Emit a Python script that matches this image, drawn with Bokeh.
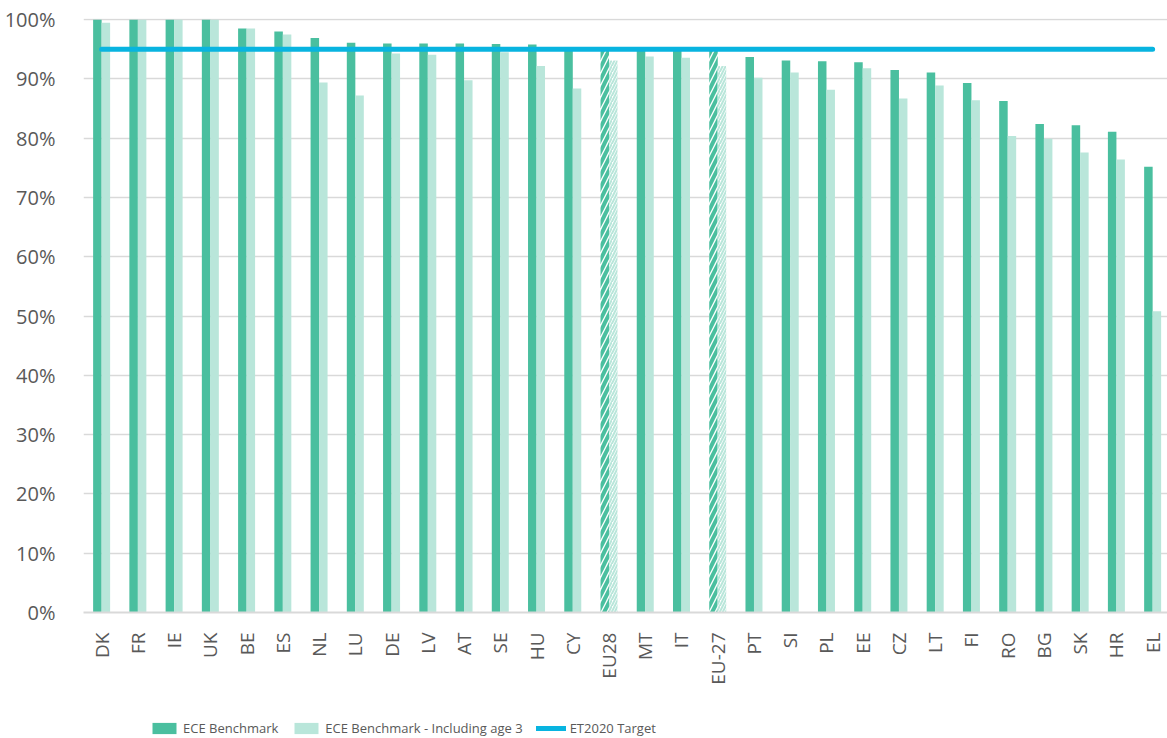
import numpy as np
from math import pi
from bokeh.plotting import figure
from bokeh.layouts import column
from bokeh.models import (ColumnDataSource, Range1d, FixedTicker, PrintfTickFormatter,
                          Legend, LegendItem)
from bokeh.transform import dodge
from bokeh.core.properties import value
from bokeh.embed import file_html
from bokeh.resources import INLINE

# ---- data ----
countries = ["DK", "FR", "IE", "UK", "BE", "ES", "NL", "LU", "DE", "LV", "AT", "SE", "HU", "CY",
             "EU28", "MT", "IT", "EU-27", "PT", "SI", "PL", "EE", "CZ", "LT", "FI", "RO", "BG",
             "SK", "HR", "EL"]
ece_benchmark = [100, 100, 100, 100, 98.5, 98.0, 96.9, 96.1, 96.0, 96.0, 96.0, 95.9, 95.8, 95.2,
                 95.0, 95.1, 95.0, 95.0, 93.7, 93.1, 93.0, 92.8, 91.5, 91.1, 89.3, 86.3, 82.4,
                 82.2, 81.1, 75.2]
ece_age3 = [99.5, 100, 100, 100, 98.5, 97.5, 89.4, 87.2, 94.3, 94.1, 89.8, 94.5, 92.2, 88.4,
            93.1, 93.8, 93.6, 92.2, 90.2, 91.1, 88.2, 91.8, 86.7, 88.9, 86.4, 80.4, 79.9,
            77.6, 76.4, 50.8]
target = 95
aggregates = ["EU28", "EU-27"]
y_ticks = [0, 10, 20, 30, 40, 50, 60, 70, 80, 90, 100]
series_names = ["ECE Benchmark", "ECE Benchmark - Including age 3", "ET2020 Target"]

DARK = "#4ABF9F"
LIGHT = "#B9E6DA"
LINE = "#08B4E0"
GRID = "#D9D9D9"
TXT = "#595959"
FONT = "Open Sans"

n = len(countries)
idx = list(range(n))
is_agg = [c in aggregates for c in countries]

def subset(flag):
    sel = [i for i in idx if is_agg[i] == flag]
    return ColumnDataSource(dict(
        idx=sel,
        ece=[ece_benchmark[i] for i in sel],
        age3=[ece_age3[i] for i in sel],
    ))

src_main = subset(False)
src_agg = subset(True)

bw = 0.235
off = 0.117

def draw(fig):
    r_dark = fig.vbar(x=dodge("idx", -off, range=fig.x_range), top="ece", width=bw, bottom=0,
                      source=src_main, fill_color=DARK, line_color=None)
    r_light = fig.vbar(x=dodge("idx", off, range=fig.x_range), top="age3", width=bw, bottom=0,
                       source=src_main, fill_color=LIGHT, line_color=None)
    fig.vbar(x=dodge("idx", -off, range=fig.x_range), top="ece", width=bw, bottom=0,
             source=src_agg, fill_color="white", line_color=None,
             hatch_pattern="/", hatch_color=DARK, hatch_scale=12, hatch_weight=4)
    fig.vbar(x=dodge("idx", off, range=fig.x_range), top="age3", width=bw, bottom=0,
             source=src_agg, fill_color="white", line_color=None,
             hatch_pattern="/", hatch_color=LIGHT, hatch_scale=6, hatch_weight=2)
    r_line = fig.line(x=idx, y=[target] * n, line_color=LINE, line_width=5, line_cap="round")
    return r_dark, r_light, r_line

# ---- main chart ----
p = figure(width=1167, height=700,
           x_range=Range1d(-0.5, 29.41), y_range=Range1d(0, 100.2),
           output_backend="svg", toolbar_location=None,
           min_border_left=83, min_border_right=0, min_border_top=18, min_border_bottom=88)
p.outline_line_color = None
p.background_fill_color = "white"
p.border_fill_color = "white"
draw(p)

p.xaxis.ticker = FixedTicker(ticks=idx)
p.xaxis.major_label_overrides = {i: c for i, c in enumerate(countries)}
p.xaxis.major_label_orientation = pi / 2
p.xaxis.major_label_text_font = FONT
p.xaxis.major_label_text_font_size = "19px"
p.xaxis.major_label_text_color = TXT
p.xaxis.major_label_standoff = 14
p.xaxis.axis_line_color = GRID
p.xaxis.axis_line_width = 2
p.xaxis.major_tick_line_color = None
p.xaxis.minor_tick_line_color = None

p.yaxis.ticker = FixedTicker(ticks=y_ticks)
p.yaxis.formatter = PrintfTickFormatter(format="%d%%")
p.yaxis.major_label_text_font = FONT
p.yaxis.major_label_text_font_size = "20px"
p.yaxis.major_label_text_color = TXT
p.yaxis.major_label_standoff = 22
p.yaxis.axis_line_color = None
p.yaxis.major_tick_line_color = None
p.yaxis.minor_tick_line_color = None

p.xgrid.grid_line_color = None
p.ygrid.grid_line_color = GRID
p.ygrid.grid_line_width = 1.5
p.ygrid.ticker = FixedTicker(ticks=y_ticks)

# ---- legend strip (same series; its view window is far away from the data) ----
lg = figure(width=1167, height=38,
            x_range=Range1d(1000, 1001), y_range=Range1d(1000, 1001),
            x_axis_location=None, y_axis_location=None,
            output_backend="svg", toolbar_location=None,
            min_border_left=0, min_border_right=0, min_border_top=0, min_border_bottom=0)
lg.grid.visible = False
lg.outline_line_color = None
lg.background_fill_color = "white"
lg.border_fill_color = "white"
r_dark, r_light, r_line = draw(lg)

legend = Legend(items=[
    LegendItem(label=series_names[0], renderers=[r_dark]),
    LegendItem(label=series_names[1], renderers=[r_light]),
    LegendItem(label=series_names[2], renderers=[r_line]),
], orientation="horizontal", location=(66, 1))
legend.padding = 0
legend.margin = 0
legend.spacing = 13
legend.glyph_width = 30
legend.glyph_height = 14
legend.label_standoff = 4
legend.label_text_font = FONT
legend.label_text_font_size = "13px"
legend.label_text_color = TXT
legend.border_line_color = None
legend.background_fill_alpha = 0
lg.add_layout(legend)

layout = column(p, lg, spacing=0)
open("out.html", "w").write(file_html(layout, INLINE))
